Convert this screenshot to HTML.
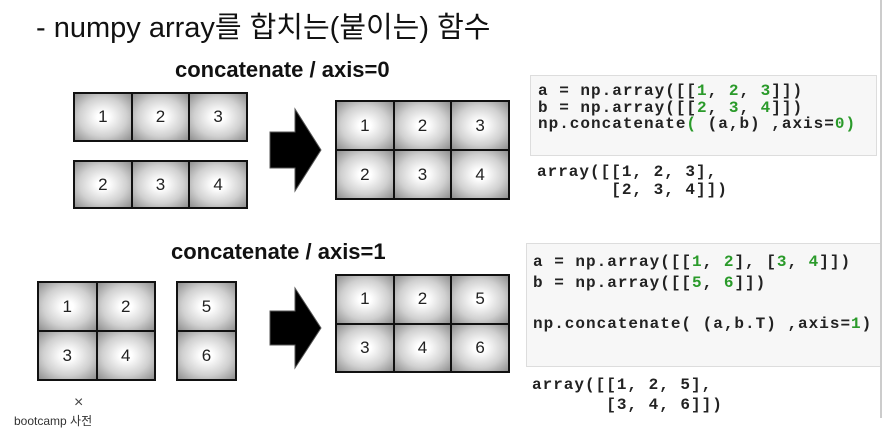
<!DOCTYPE html>
<html><head><meta charset="utf-8"><style>
body{margin:0;width:882px;height:418px;background:#fff;position:relative;overflow:hidden;font-family:"Liberation Sans","Noto Sans CJK KR",sans-serif}
.a{position:absolute}
.g{position:absolute;display:grid;border:1.5px solid #111;box-sizing:border-box;gap:0}
.g div{border:1px solid #111;background:radial-gradient(ellipse at center,#fff 15%,#d0d0d0 60%,#8f8f8f 100%);display:flex;align-items:center;justify-content:center;font-size:17px;color:#222}
.t{font-weight:bold;font-size:22px;color:#111;white-space:nowrap}
.code{font-family:"Liberation Mono",monospace;font-size:16px;letter-spacing:1px;font-weight:bold;color:#222;white-space:pre;line-height:16.5px}
.n{color:#2a9a2a}
.box{background:#f7f7f7;border:1px solid #ddd}
</style></head><body>
<div class="a" style="left:36px;top:4px;font-size:29px;color:#111;white-space:nowrap">- numpy array를 합치는(붙이는) 함수</div>
<div class="a t" style="left:175px;top:57px">concatenate / axis=0</div>
<div class="a t" style="left:171px;top:239px">concatenate / axis=1</div>

<div class="g" style="left:73px;top:92px;width:175px;height:50px;grid-template-columns:repeat(3,1fr)"><div>1</div><div>2</div><div>3</div></div>
<div class="g" style="left:73px;top:160px;width:175px;height:49px;grid-template-columns:repeat(3,1fr)"><div>2</div><div>3</div><div>4</div></div>
<div class="g" style="left:335px;top:100px;width:175px;height:100px;grid-template-columns:repeat(3,1fr)"><div>1</div><div>2</div><div>3</div><div>2</div><div>3</div><div>4</div></div>

<div class="g" style="left:37px;top:281px;width:119px;height:100px;grid-template-columns:repeat(2,1fr)"><div>1</div><div>2</div><div>3</div><div>4</div></div>
<div class="g" style="left:176px;top:281px;width:61px;height:100px;grid-template-columns:1fr"><div>5</div><div>6</div></div>
<div class="g" style="left:335px;top:274px;width:175px;height:99px;grid-template-columns:repeat(3,1fr)"><div>1</div><div>2</div><div>5</div><div>3</div><div>4</div><div>6</div></div>

<svg class="a" style="left:266px;top:105px" width="60" height="90"><polygon points="4,27 29,27 29,4 55,45 29,86 29,63 4,63" fill="#000" stroke="#555" stroke-width="1"/></svg>
<svg class="a" style="left:266px;top:284px" width="60" height="90"><polygon points="4,27 29,27 29,4 55,44 29,84 29,61 4,61" fill="#000" stroke="#555" stroke-width="1"/></svg>

<div class="a box" style="left:530px;top:75px;width:345px;height:79px"></div>
<div class="a code" style="left:538px;top:83px">a = np.array([[<span class="n">1</span>, <span class="n">2</span>, <span class="n">3</span>]])
b = np.array([[<span class="n">2</span>, <span class="n">3</span>, <span class="n">4</span>]])
np.concatenate<span class="n">(</span> (a,b) ,axis=<span class="n">0)</span></div>
<div class="a code" style="left:537px;top:163px;line-height:18px">array([[1, 2, 3],
       [2, 3, 4]])</div>

<div class="a box" style="left:526px;top:243px;width:356px;height:122px"></div>
<div class="a code" style="left:533px;top:252px;line-height:20.5px">a = np.array([[<span class="n">1</span>, <span class="n">2</span>], [<span class="n">3</span>, <span class="n">4</span>]])
b = np.array([[<span class="n">5</span>, <span class="n">6</span>]])

np.concatenate( (a,b.T) ,axis=<span class="n">1</span>)</div>
<div class="a code" style="left:532px;top:375px;line-height:20px">array([[1, 2, 5],
       [3, 4, 6]])</div>
<div class="a" style="left:880px;top:0;width:2px;height:418px;background:#ccc"></div>
<div class="a" style="left:74px;top:394px;font-size:16px;color:#444">×</div>
<div class="a" style="left:14px;top:412px;font-size:12px;color:#333">bootcamp 사전</div>
</body></html>
